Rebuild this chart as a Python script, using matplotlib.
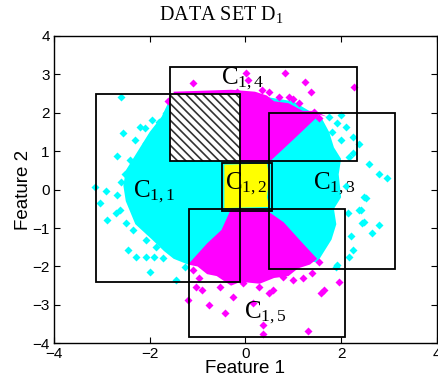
import numpy as np
import matplotlib.pyplot as plt
from matplotlib.patches import Polygon, Rectangle

plt.rcParams['font.family'] = ['Liberation Sans', 'DejaVu Sans']
plt.rcParams['mathtext.fontset'] = 'custom'
plt.rcParams['mathtext.rm'] = 'Liberation Serif'
plt.rcParams['mathtext.it'] = 'Liberation Serif:italic'
plt.rcParams['hatch.linewidth'] = 1.2

# dense cores of the two classes (outlines)
cyan_core = [(-1.6, 2.3), (-1.75, 1.9), (-2.0, 1.5), (-2.3, 0.9), (-2.5, 0.5), (-2.55, 0.1),
             (-2.5, -0.3), (-2.3, -0.9), (-1.95, -1.3), (-1.7, -1.6), (-1.5, -1.8), (-1.2, -1.95),
             (0.0, -1.5), (1.5, -1.9), (1.65, -1.6), (1.8, -1.3), (1.9, -0.9), (1.85, -0.5),
             (2.0, -0.2), (1.95, 0.4), (2.0, 0.8), (1.85, 1.1), (1.75, 1.5), (1.6, 1.85),
             (1.0, 2.3), (0.0, 2.5), (-1.0, 2.5)]
magenta_top = [(-0.3, 0.72), (0.5, 0.72), (1.0, 1.3), (1.55, 1.95), (1.7, 1.9),
               (1.45, 2.05), (1.2, 2.05), (0.9, 2.25), (0.6, 2.3), (0.45, 2.45), (0.2, 2.55),
               (-0.3, 2.6), (-1.5, 2.55), (-1.5, 2.2)]
magenta_bottom = [(-0.3, -0.5), (0.4, -0.5), (0.8, -0.85), (1.2, -1.4), (1.5, -1.8),
                  (1.35, -1.95), (1.1, -2.05), (0.9, -2.25), (0.6, -2.3), (0.3, -2.45),
                  (-0.1, -2.4), (-0.3, -2.5), (-0.6, -2.25), (-0.8, -2.2), (-1.0, -2.0),
                  (-1.2, -1.95), (-0.8, -1.4), (-0.5, -1.05)]
yellow_core = [(-0.44, 0.65), (0.45, 0.68), (0.5, 0.3), (0.45, -0.2), (0.5, -0.45),
               (-0.44, -0.48)]

# scattered points outside the cores
cyan_x = [-2.59, -2.56, -2.69, -2.51, -3.15, -2.92, -2.21, -2.07, -1.96, -1.65, -2.21, -2.42,
          -3.04, -2.90, -2.69, -2.45, -2.28, -2.00, -2.07, -1.72, -1.44, -1.27, -2.35, -2.07,
          -1.86, -2.63, -2.49, -1.58, -2.3, -2.1, -1.8, -1.9, -2.6, -2.7,
          2.79, 2.65, 2.48, 2.38, 2.51, 2.17, 2.24, 1.89, 2.96, 2.79, 2.58, 2.38, 2.24, 1.99,
          1.75, 2.17, 2.48, 2.41, 2.44, 1.92, 1.92, 1.82, 2.10, 2.24, 2.1, 2.2, 2.0, 2.15]
cyan_y = [2.40, 1.47, 0.87, 0.41, 0.08, -0.03, 1.64, 1.21, 1.81, 1.99, 0.86, 0.77,
          -0.36, -0.79, -0.14, -1.57, -1.75, -2.14, -1.75, -1.79, -2.35, -2.01, -1.05, -1.31,
          -1.49, -0.53, -0.88, -1.57, 1.3, 1.6, 1.75, -1.75, 0.2, -0.6,
          -0.92, -1.14, -0.83, -0.53, -0.23, -1.75, -1.57, -2.01, 0.29, 0.41, 0.68, 1.20, 1.38, 1.94,
          1.90, 0.86, -0.20, -0.53, -0.88, -1.96, 1.73, 1.51, 1.64, 0.95, 0.1, -1.2, 1.3, -0.6]
magenta_x = [-1.21, -0.76, -0.42, 0.36, 0.36, 1.31, 1.96, 1.65, 1.59, 0.99, -0.96, -0.58,
             -0.89, -0.26, -0.26, 0.15, 0.57, 0.78, 1.40, 1.54, -0.54, -1.03, -0.06, 0.29, -0.68,
             -1.1, 1.2, 0.5, -0.9,
             0.01, 0.83, 2.26, 1.25, -1.10, -1.62, -0.18, 0.50, 0.71, 0.92, 1.37, 1.13, 1.44,
             1.54, 0.26, 0.78, 0.05, 1.0, 0.35]
magenta_y = [-2.87, -3.01, -3.20, -3.53, -3.76, -3.69, -2.40, -2.61, -2.70, -2.35, -2.31, -2.14,
             -1.85, -1.83, -2.79, -2.96, -2.61, -2.27, -2.18, -1.88, -2.53, -2.53, -2.44, -2.53, -1.57,
             -2.1, -2.3, -2.7, -2.6,
             3.03, 3.04, 2.66, 2.81, 2.77, 2.31, 2.55, 2.55, 2.42, 2.42, 2.55, 2.25, 2.03,
             1.86, 2.33, 2.12, 2.85, 2.35, 2.6]

# cluster boxes (x0, x1, y0, y1)
box_names = ['C$_{1,1}$', 'C$_{1,2}$', 'C$_{1,3}$', 'C$_{1,4}$', 'C$_{1,5}$']
box_x0 = [-3.12, -0.48, 0.49, -1.57, -1.17]
box_x1 = [-0.11, 0.55, 3.13, 2.34, 2.08]
box_y0 = [-2.40, -0.55, -2.07, 0.75, -3.83]
box_y1 = [2.49, 0.70, 2.00, 3.20, -0.50]
label_x = [-1.9, 0.02, 1.85, -0.05, 0.42]
label_y = [-0.05, 0.15, 0.15, 2.88, -3.2]

fig = plt.figure(figsize=(4.39, 3.89), dpi=100)
ax = fig.add_axes([0.123, 0.1175, 0.872, 0.79])

ax.add_patch(Polygon(cyan_core, closed=True, facecolor='cyan', edgecolor='none', zorder=1))
ax.add_patch(Polygon(magenta_top, closed=True, facecolor='magenta', edgecolor='none', zorder=1.1))
ax.add_patch(Polygon(magenta_bottom, closed=True, facecolor='magenta', edgecolor='none', zorder=1.1))
ax.plot(cyan_x, cyan_y, 'D', color='cyan', ms=4.3, mec='none', zorder=1.2)
ax.plot(magenta_x, magenta_y, 'D', color='magenta', ms=4.3, mec='none', zorder=1.2)
ax.add_patch(Polygon(yellow_core, closed=True, facecolor='yellow', edgecolor='none', zorder=1.3))

# overlap of C1,1 and C1,4 is hatched
hx0, hx1 = box_x0[3], box_x1[0]
hy0, hy1 = box_y0[3], box_y1[0]
ax.add_patch(Rectangle((hx0, hy0), hx1 - hx0, hy1 - hy0, facecolor='white',
                       edgecolor='#333333', hatch='\\\\\\\\', lw=0, zorder=2))

for i in range(len(box_names)):
    ax.add_patch(Rectangle((box_x0[i], box_y0[i]), box_x1[i] - box_x0[i], box_y1[i] - box_y0[i],
                           fill=False, edgecolor='black', lw=1.3, zorder=3))
    ax.text(label_x[i], label_y[i], box_names[i], fontsize=18, ha='center', va='center',
            family='Liberation Serif', zorder=4)

ax.set_xlim(-4, 4)
ax.set_ylim(-4, 4)
ax.set_xticks([-4, -2, 0, 2, 4])
ax.set_yticks([-4, -3, -2, -1, 0, 1, 2, 3, 4])
ax.tick_params(direction='in', top=True, right=True, length=4, labelsize=11, pad=3)
for s in ax.spines.values():
    s.set_linewidth(1.0)
ax.set_xlabel('Feature 1', fontsize=13.5, labelpad=-1)
ax.set_ylabel('Feature 2', fontsize=13.5, labelpad=0)

fig.text(0.505, 0.962, 'DATA SET D$_1$', fontsize=14.5, ha='center', va='center',
         family='Liberation Serif')

fig.savefig('out.png', dpi=100)
